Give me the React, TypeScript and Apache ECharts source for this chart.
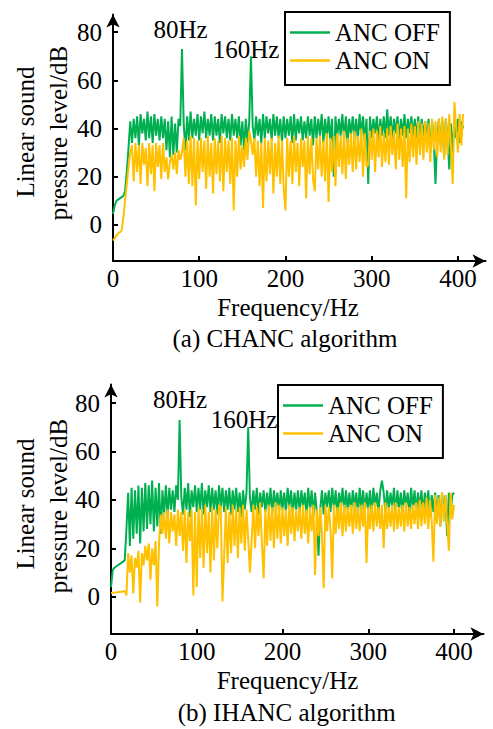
import React, { useEffect, useRef } from "react";
import * as echarts from "echarts";

const FONT = "Liberation Serif";
const GREEN = "#00b050";
const YELLOW = "#ffc000";

// frequency grid step (Hz) — sample i is at i * FREQ_STEP
const FREQ_STEP = 2;

const seriesNames = ["ANC OFF", "ANC ON"];
const xTicks = [0, 100, 200, 300, 400];
const yTicks = [0, 20, 40, 60, 80];

// (a) CHANC algorithm, 0..406 Hz
const chancOff = [
  4.5, 8, 10, 10.5, 11, 11.5, 12, 14, 22, 32,
  43, 34, 44, 36, 45, 33, 46, 38, 44, 35,
  47, 36, 45, 34, 46, 37, 44, 35, 45, 36,
  44, 31, 43, 28, 45, 29, 42, 30, 44, 41,
  73, 42, 31, 45, 35, 47, 36, 44, 37, 46,
  35, 45, 38, 47, 36, 44, 37, 46, 35, 45,
  37, 44, 34, 46, 38, 45, 36, 44, 35, 46,
  37, 44, 36, 45, 33, 43, 31, 44, 34, 43,
  70, 41, 35, 45, 37, 44, 34, 46, 36, 45,
  38, 44, 35, 46, 37, 45, 36, 44, 34, 45,
  36, 44, 37, 45, 34, 46, 35, 44, 38, 45,
  35, 43, 36, 45, 37, 44, 33, 45, 36, 44,
  37, 46, 34, 44, 36, 45, 35, 44, 20, 45,
  36, 44, 37, 46, 35, 45, 34, 44, 37, 45,
  36, 44, 35, 46, 37, 45, 34, 44, 17, 45,
  36, 44, 38, 45, 35, 44, 37, 45, 36, 48,
  37, 45, 36, 44, 38, 45, 35, 44, 37, 46,
  36, 44, 38, 45, 37, 44, 36, 45, 35, 44,
  37, 43, 36, 44, 30, 43, 35, 17, 36, 44,
  33, 43, 28, 44, 36, 23, 42, 30, 43, 36,
  44, 34, 43, 40,
];
const chancOn = [
  -6.5, -5.5, -4.5, -3.5, -3, -2.5, 3, 10, 17, 24,
  30, 33, 18, 34, 22, 33, 17, 34, 25, 32,
  16, 34, 21, 33, 14, 34, 24, 33, 19, 34,
  22, 28, 19, 26, 29, 23, 30, 21, 31, 27,
  30, 36, 20, 35, 17, 37, 16, 36, 8, 35,
  19, 36, 22, 35, 15, 37, 20, 34, 13, 36,
  21, 35, 18, 37, 14, 36, 22, 35, 17, 36,
  6, 35, 20, 37, 23, 33, 24, 36, 27, 39,
  35, 29, 36, 20, 35, 16, 34, 7, 36, 18,
  35, 21, 36, 13, 34, 20, 37, 17, 35, 15,
  6, 36, 20, 35, 17, 37, 22, 34, 16, 36,
  24, 35, 11, 37, 21, 36, 19, 14, 36, 23,
  37, 20, 35, 18, 38, 9.5, 36, 22, 37, 16,
  38, 24, 37, 21, 39, 19, 36, 25, 38, 22,
  39, 23, 37, 26, 40, 20, 38, 24, 25, 39,
  27, 40, 22, 39, 28, 41, 24, 38, 26, 40,
  25, 41, 29, 39, 23, 42, 27, 40, 24, 41,
  11, 40, 26, 42, 28, 41, 25, 43, 29, 42,
  27, 43, 30, 42, 26, 44, 31, 43, 28, 44,
  30, 45, 27, 44, 29, 46, 32, 17, 51, 40,
  30, 46, 33, 46,
];

// (b) IHANC algorithm, 0..400 Hz
const ihancOff = [
  4, 11, 12, 12.5, 13, 13.5, 14, 14.5, 15, 28,
  43, 21, 45, 24, 44, 26, 46, 22, 45, 27,
  47, 28, 46, 30, 48, 27, 45, 29, 47, 26,
  44, 34, 46, 33, 45, 36, 44, 35, 46, 40,
  73, 41, 34, 45, 36, 47, 33, 44, 37, 46,
  35, 45, 36, 47, 34, 44, 37, 46, 35, 45,
  36, 44, 34, 46, 37, 45, 35, 44, 36, 45,
  34, 44, 36, 45, 35, 43, 33, 44, 36, 43,
  70, 41, 35, 44, 36, 45, 34, 43, 37, 44,
  35, 43, 36, 45, 34, 44, 37, 43, 35, 44,
  36, 43, 35, 45, 37, 44, 34, 43, 36, 44,
  35, 44, 37, 43, 34, 45, 36, 44, 33, 43,
  35, 17, 36, 44, 34, 43, 37, 44, 35, 45,
  36, 44, 34, 43, 37, 45, 35, 44, 36, 43,
  35, 44, 37, 43, 34, 45, 36, 44, 35, 43,
  36, 44, 34, 45, 37, 43, 35, 44, 48, 43,
  35, 44, 36, 43, 37, 45, 34, 44, 36, 43,
  35, 44, 37, 43, 34, 45, 36, 44, 35, 43,
  36, 44, 34, 43, 37, 44, 33, 42, 35, 43,
  34, 42, 29, 43, 35, 42, 25, 43, 34, 42,
  43,
];
const ihancOn = [
  1.5, 1.6, 1.7, 1.8, 1.9, 2, 2.1, 2.2, 2.4, 0.6,
  18, 10, 17, 1.4, 16, 12, 19, -2.5, 18, 13,
  21, 15, 22, 7, 20, 13, 23, -4, 22, 34,
  26, 35, 24, 36, 22, 35, 27, 34, 21, 36,
  25, 35, 19, 36, 14, 35, 23, 36, 0.5, 35,
  4, 37, 16, 36, 12, 38, 18, 35, 10, 37,
  15, 36, 20, 38, 37, -2, 17, 37, 14, 35,
  18, 38, 21, 36, 16, 37, 22, 38, 19, 36,
  24, 10, 23, 38, 20, 37, 25, 39, 22, 7.6,
  36, 21, 38, 23, 37, 20, 39, 24, 38, 22,
  37, 25, 36, 21, 38, 26, 37, 23, 36, 27,
  37, 24, 38, 26, 36, 22, 37, 27, 38, 9,
  36, 25, 37, 26, 3.5, 38, 27, 37, 28, 7.6,
  38, 26, 37, 28, 39, 25, 38, 27, 37, 29,
  38, 26, 39, 28, 37, 27, 38, 29, 39, 14,
  37, 28, 38, 27, 39, 29, 37, 28, 38, 20,
  39, 28, 37, 29, 38, 27, 39, 28, 37, 29,
  38, 27, 39, 29, 37, 28, 38, 30, 39, 28,
  40, 29, 39, 30, 41, 28, 40, 31, 14.5, 42,
  30, 41, 29, 43, 31, 42, 30, 19, 43, 32,
  38,
];

const toPairs = (vals: number[]) => vals.map((v, i) => [i * FREQ_STEP, v]);

const txt = (text: string, x: number, y: number, rotation = 0) => ({
  type: "text",
  x,
  y,
  rotation,
  silent: true,
  style: {
    text,
    fontSize: 25,
    fontFamily: FONT,
    fill: "#000",
    align: "center",
    verticalAlign: "middle",
  },
});

const axisLineCfg = {
  show: true,
  onZero: false,
  symbol: ["none", "arrow"],
  symbolSize: [10, 13],
  lineStyle: { color: "#000", width: 2 },
};

const labelText = {
  fontSize: 25,
  fontFamily: FONT,
  color: "#000",
};

const makeX = (gridIndex: number, max: number) => ({
  type: "value",
  gridIndex,
  min: 0,
  max,
  splitLine: { show: false },
  axisLine: axisLineCfg,
  axisTick: {
    show: true,
    inside: true,
    length: 5,
    lineStyle: { color: "#000", width: 2 },
    customValues: xTicks,
  },
  axisLabel: {
    customValues: xTicks,
    ...labelText,
    margin: 5,
  },
});

const makeY = (gridIndex: number, min: number, max: number) => ({
  type: "value",
  gridIndex,
  min,
  max,
  splitLine: { show: false },
  axisLine: axisLineCfg,
  axisTick: {
    show: true,
    inside: true,
    length: 5,
    lineStyle: { color: "#000", width: 2 },
    customValues: yTicks,
  },
  axisLabel: {
    customValues: yTicks,
    ...labelText,
    margin: 11,
  },
});

const makeLegend = (left: number, top: number) => ({
  left,
  top,
  orient: "vertical",
  icon: "rect",
  itemWidth: 40,
  itemHeight: 2.5,
  itemGap: 3,
  padding: [8, 10, 12, 5],
  borderColor: "#000",
  borderWidth: 2,
  selectedMode: false,
  textStyle: { ...labelText },
  data: seriesNames,
});

const line = (name: string, color: string, vals: number[], idx: number) => ({
  type: "line",
  name,
  xAxisIndex: idx,
  yAxisIndex: idx,
  data: toPairs(vals),
  symbol: "none",
  showSymbol: false,
  color,
  itemStyle: { color },
  lineStyle: { color, width: 2 },
  silent: true,
});

export default function App() {
  const ref = useRef<HTMLDivElement>(null);
  useEffect(() => {
    if (!ref.current) return;
    const chart = echarts.init(ref.current, undefined, { renderer: "svg" });
    chart.setOption({
      animation: false,
      backgroundColor: "#fff",
      textStyle: { fontFamily: FONT, fontSize: 25 },
      grid: [
        { left: 113, top: 14.5, width: 372.5, height: 246.5 },
        { left: 111, top: 384.5, width: 372.5, height: 249.5 },
      ],
      xAxis: [makeX(0, 432), makeX(1, 434.4)],
      yAxis: [makeY(0, -15, 87.3), makeY(1, -15.4, 87.7)],
      legend: [makeLegend(285, 12), makeLegend(278, 385)],
      series: [
        line(seriesNames[0], GREEN, chancOff, 0),
        line(seriesNames[1], YELLOW, chancOn, 0),
        line(seriesNames[0], GREEN, ihancOff, 1),
        line(seriesNames[1], YELLOW, ihancOn, 1),
      ],
      graphic: [
        txt("80Hz", 180.5, 29),
        txt("160Hz", 246, 49.5),
        txt("80Hz", 180, 399),
        txt("160Hz", 244, 419.5),
        txt("Frequency/Hz", 288, 307),
        txt("(a) CHANC algorithm", 285, 338),
        txt("Frequency/Hz", 287.5, 680),
        txt("(b) IHANC algorithm", 286.7, 712),
        txt("Linear sound", 25, 132, Math.PI / 2),
        txt("pressure level/dB", 58, 133, Math.PI / 2),
        txt("Linear sound", 25, 504, Math.PI / 2),
        txt("pressure level/dB", 58, 506, Math.PI / 2),
      ],
    });
    return () => chart.dispose();
  }, []);
  return (
    <div
      ref={ref}
      style={{ position: "absolute", left: 0, top: 0, width: 493, height: 729, background: "#fff" }}
    />
  );
}
